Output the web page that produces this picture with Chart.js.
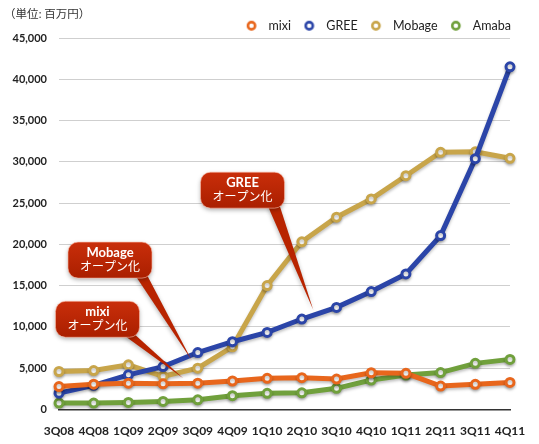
<!DOCTYPE html>
<html>
<head>
<meta charset="utf-8">
<script src="https://cdn.jsdelivr.net/npm/chart.js@4.4.1/dist/chart.umd.min.js"></script>
<style>
  html, body { margin: 0; background: #fff; }
  #wrap { width: 539px; height: 444px; }
</style>
</head>
<body>
<div id="wrap"><canvas id="salesChart"></canvas></div>
<script>
const quarters = ["3Q08", "4Q08", "1Q09", "2Q09", "3Q09", "4Q09", "1Q10", "2Q10", "3Q10", "4Q10", "1Q11", "2Q11", "3Q11", "4Q11"];
const mixi   = [2760, 3050, 3170, 3090, 3170, 3430, 3750, 3830, 3670, 4430, 4360, 2820, 3030, 3250];
const gree   = [1960, 2900, 4180, 5180, 6880, 8190, 9320, 10940, 12350, 14270, 16410, 21050, 30370, 41510];
const mobage = [4580, 4700, 5390, 4000, 4990, 7580, 15000, 20300, 23280, 25490, 28310, 31150, 31200, 30420];
const amaba  = [750, 750, 830, 950, 1150, 1650, 1940, 2000, 2540, 3550, 4150, 4450, 5570, 6050];
const yMax = 45000;
const yStep = 5000;

// callouts: label + anchor points given as (category index, value)
const notes = [
  { title: "mixi",   sub: "オープン化", at: [1.11, 10910], tip: [3.58, 3750] },
  { title: "Mobage", sub: "オープン化", at: [1.47, 18080], tip: [3.82, 5970] },
  { title: "GREE",   sub: "オープン化", at: [5.29, 26560], tip: [7.33, 12020] }
];

function series(label, data, color) {
  return {
    label, data,
    borderColor: color,
    backgroundColor: "#fff",
    borderWidth: 5,
    pointRadius: 4,
    pointBorderWidth: 3,
    pointBackgroundColor: "#fff",
    pointBorderColor: color,
    tension: 0
  };
}

/* small ring used as legend marker */
function ring(color) {
  const cv = document.createElement("canvas");
  cv.width = 22; cv.height = 12;
  const c = cv.getContext("2d");
  c.beginPath();
  c.arc(11.75, 6, 3.6, 0, Math.PI * 2);
  c.fillStyle = "#fff";
  c.fill();
  c.lineWidth = 2.6;
  c.strokeStyle = color;
  c.stroke();
  return cv;
}

/* fixed legend band height so the plot top stays put */
const legendHeight = {
  id: "legendHeight",
  beforeLayout(chart) {
    const lg = chart.legend;
    if (lg && !lg._fixed) {
      const fit = lg.fit.bind(lg);
      lg.fit = function () { fit(); this.height = 24.5; };
      lg._fixed = true;
    }
  }
};

/* soft drop shadow under every line */
const lineShadow = {
  id: "lineShadow",
  beforeDatasetDraw(chart) {
    const c = chart.ctx;
    c.save();
    c.shadowColor = "rgba(0,0,0,0.25)";
    c.shadowBlur = 3;
    c.shadowOffsetY = 2;
  },
  afterDatasetDraw(chart) {
    chart.ctx.restore();
  }
};

/* unit caption top left */
const unitText = {
  id: "unitText",
  afterDraw(chart) {
    const c = chart.ctx;
    c.save();
    c.font = "11.5px 'Noto Sans CJK JP'";
    c.fillStyle = "#333";
    c.textBaseline = "middle";
    c.fillText("（単位: 百万円）", 4, 14);
    c.restore();
  }
};

/* red speech bubbles */
const callouts = {
  id: "callouts",
  afterDatasetsDraw(chart) {
    const c = chart.ctx;
    const xs = chart.scales.x, ys = chart.scales.y;
    notes.forEach(n => {
      c.save();
      c.font = "bold 13px Lato";
      const w1 = c.measureText(n.title).width;
      c.font = "12px 'Noto Sans CJK JP'";
      const w2 = c.measureText(n.sub).width;
      const w = Math.max(w1, w2) + 24, h = 36;
      const cx = xs.getPixelForValue(n.at[0]), cy = ys.getPixelForValue(n.at[1]);
      const left = cx - w / 2, top = cy - h / 2, right = left + w, bottom = top + h;
      const tx = xs.getPixelForValue(n.tip[0]), ty = ys.getPixelForValue(n.tip[1]);

      c.shadowColor = "rgba(0,0,0,0.3)";
      c.shadowBlur = 4;
      c.shadowOffsetY = 2;
      const grad = c.createLinearGradient(0, top, 0, bottom);
      grad.addColorStop(0, "#c92e0a");
      grad.addColorStop(1, "#aa1f00");

      // tail
      c.beginPath();
      c.moveTo(right - 17, bottom - 3);
      c.lineTo(right - 5, bottom - 3);
      c.lineTo(tx, ty);
      c.closePath();
      c.fillStyle = "#b82400";
      c.fill();

      // box
      c.beginPath();
      c.roundRect(left, top, w, h, 10);
      c.fillStyle = grad;
      c.fill();
      c.shadowColor = "transparent";
      c.strokeStyle = "rgba(255,190,170,0.6)";
      c.lineWidth = 1;
      c.stroke();

      c.fillStyle = "#fff";
      c.textAlign = "center";
      c.textBaseline = "middle";
      c.font = "bold 13px Lato";
      c.fillText(n.title, cx, top + 10.5);
      c.font = "12px 'Noto Sans CJK JP'";
      c.fillText(n.sub, cx, top + 24);
      c.restore();
    });
  }
};

const ctx = document.getElementById("salesChart");

new Chart(ctx, {
  type: "line",
  data: {
    labels: quarters,
    datasets: [
      series("mixi", mixi, "#e8661c"),
      series("GREE", gree, "#2b45a8"),
      series("Mobage", mobage, "#c8a54a"),
      series("Amaba", amaba, "#70a03c")
    ]
  },
  options: {
    responsive: true,
    maintainAspectRatio: false,
    animation: false,
    layout: { padding: { top: 13.5, right: 22, left: 0, bottom: 0 } },
    plugins: {
      tooltip: { enabled: false },
      legend: {
        position: "top",
        align: "end",
        labels: {
          usePointStyle: true,
          pointStyleWidth: 23,
          padding: 6,
          color: "#222",
          font: { family: "Lato", size: 12.5 },
          generateLabels(chart) {
            return Chart.defaults.plugins.legend.labels.generateLabels(chart)
              .map(l => ({ ...l, pointStyle: ring(l.strokeStyle) }));
          }
        }
      }
    },
    scales: {
      x: {
        grid: { display: false },
        border: { display: true, color: "#333", width: 1.5 },
        ticks: {
          color: "#222",
          font: { family: "Lato", size: 12, weight: "bold" },
          padding: 7,
          maxRotation: 0,
          autoSkip: false
        },
        afterFit(scale) {
          scale.height = 34.7;
          scale.paddingRight = 29;
        }
      },
      y: {
        min: 0,
        max: yMax,
        grid: { color: "#cfcfcf", drawTicks: false },
        border: { display: false },
        ticks: {
          stepSize: yStep,
          padding: 12,
          color: "#222",
          font: { family: "Lato", size: 11, weight: "bold" },
          callback: v => v.toLocaleString("en-US")
        },
        afterFit(scale) {
          scale.width = 59;
        }
      }
    }
  },
  plugins: [legendHeight, lineShadow, unitText, callouts]
});
</script>
</body>
</html>
